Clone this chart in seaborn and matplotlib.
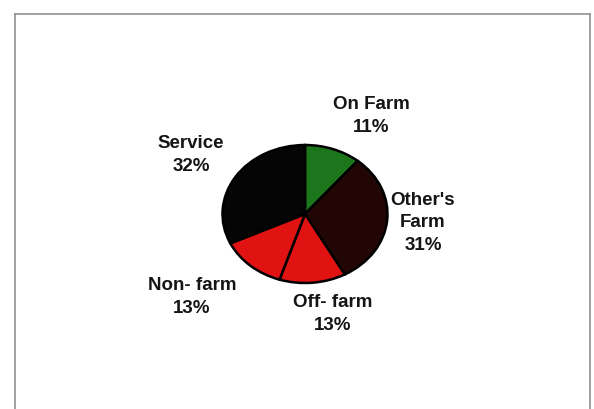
import matplotlib
matplotlib.use("Agg")
import matplotlib.pyplot as plt
import seaborn as sns

categories = ["On Farm", "Other's\nFarm", "Off- farm", "Non- farm", "Service"]
shares = [11, 31, 13, 13, 32]
colors = ["#1c771c", "#220606", "#e01212", "#e01212", "#050505"]
label_pos = [(0.80, 1.42), (1.43, -0.13), (0.33, -1.45), (-1.37, -1.20), (-1.38, 0.86)]

sns.set_theme(style="white")
plt.rcParams['font.family'] = ['Liberation Sans', 'DejaVu Sans']

fig = plt.figure(figsize=(5.94, 4.09), dpi=100)
ax = fig.add_axes([15/594, 0, 575/594, 395/409])

wedges, _ = ax.pie(shares, colors=colors, startangle=90, counterclock=False,
                   radius=1, frame=True,
                   wedgeprops=dict(edgecolor="black", linewidth=1.8))
ax.set_aspect('auto')
ax.set_xlim(-290/82.5, 285/82.5)
ax.set_ylim(-195/69, 200/69)
ax.set_xticks([])
ax.set_yticks([])

for cat, val, (x, y) in zip(categories, shares, label_pos):
    ax.text(x, y, f"{cat}\n{val}%", ha="center", va="center", fontsize=13.5,
            fontweight="bold", color="#151515", linespacing=1.45)

for side in ["top", "left", "right"]:
    ax.spines[side].set_visible(True)
    ax.spines[side].set_color("#909090")
    ax.spines[side].set_linewidth(1.2)
ax.spines["bottom"].set_visible(False)

fig.savefig("out.png", dpi=100, facecolor="white")
